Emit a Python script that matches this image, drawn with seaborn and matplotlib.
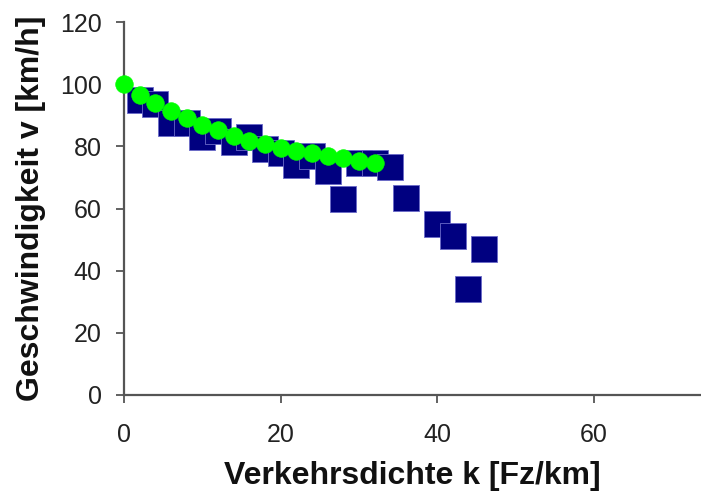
import matplotlib
matplotlib.use("Agg")
import matplotlib.pyplot as plt
import seaborn as sns
import pandas as pd

# Observed data (squares)
k_obs = [2, 4, 6, 8, 10, 12, 14, 16, 18, 20, 22, 24, 26, 28, 30, 32, 34, 36, 40, 42, 44, 46]
v_obs = [95, 93.5, 87.5, 87.5, 83, 85, 81.5, 83, 79, 78, 74, 77, 72, 63, 74.5, 74.5, 73.5, 63.5, 55, 51, 34, 47]

# Model curve (green circles)
k_mod = [0, 2, 4, 6, 8, 10, 12, 14, 16, 18, 20, 22, 24, 26, 28, 30, 32]
v_mod = [100, 96.5, 94, 91.3, 89, 87, 85.3, 83.2, 81.8, 80.6, 79.5, 78.5, 77.7, 76.9, 76.1, 75.3, 74.5]

x_ticks = [0, 20, 40, 60]
y_ticks = [0, 20, 40, 60, 80, 100, 120]

sns.set_style("white")
plt.rcParams['font.family'] = ['Liberation Sans', 'DejaVu Sans']

fig = plt.figure(figsize=(7.01, 4.97), dpi=100)
ax = fig.add_axes([124/701, 102/497, (701-124)/701, (395-22)/497])

obs = pd.DataFrame({"k": k_obs, "v": v_obs})
mod = pd.DataFrame({"k": k_mod, "v": v_mod})

sns.scatterplot(data=obs, x="k", y="v", marker="s", s=370, color="#000080",
                edgecolor="#6a6ac8", linewidth=0.6, ax=ax, zorder=3, clip_on=False)
sns.scatterplot(data=mod, x="k", y="v", marker="o", s=160, color="#00ff00",
                edgecolor="#00ff00", linewidth=0.5, ax=ax, zorder=4, clip_on=False)

ax.set_xlim(0, 73.7)
ax.set_ylim(0, 120)
ax.set_xticks(x_ticks)
ax.set_yticks(y_ticks)

for side in ["top", "right"]:
    ax.spines[side].set_visible(False)
for side in ["left", "bottom"]:
    ax.spines[side].set_color("#555555")
    ax.spines[side].set_linewidth(1.6)

ax.tick_params(axis="both", direction="out", length=6, width=1.3, color="#555555",
               labelsize=18, labelcolor="#222222", bottom=True, left=True)
ax.tick_params(axis="y", pad=10)
ax.tick_params(axis="x", pad=14)

ax.set_xlabel("Verkehrsdichte k [Fz/km]", fontsize=23, fontweight="bold", labelpad=10,
              color="#111111")
ax.set_ylabel("Geschwindigkeit v [km/h]", fontsize=23, fontweight="bold", labelpad=10,
              color="#111111")

fig.savefig("out.png", dpi=100)
